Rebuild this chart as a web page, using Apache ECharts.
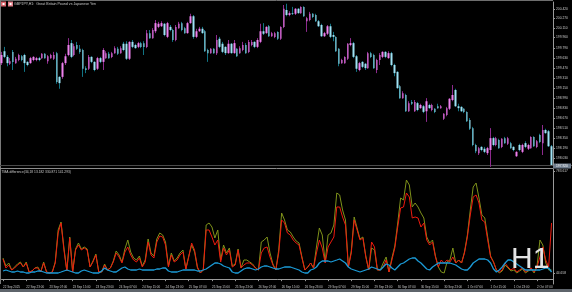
<!DOCTYPE html>
<html><head><meta charset="utf-8">
<script src="https://cdn.jsdelivr.net/npm/echarts@6/dist/echarts.min.js"></script>
<style>html,body{margin:0;padding:0;background:#000;overflow:hidden}#c{width:572px;height:292px}</style>
</head><body><div id="c"></div>
<script>
// ---- GBPJPY H1 candles ----
const openP = [199.55,199.74,199.65,199.54,199.73,199.55,199.60,199.66,199.68,199.57,
199.55,199.60,199.60,199.63,199.63,199.70,199.58,199.63,199.62,199.71,
199.33,199.33,199.55,199.68,199.87,199.68,199.84,199.78,199.76,199.47,
199.46,199.65,199.57,199.46,199.63,199.57,199.63,199.70,199.65,199.71,
199.78,199.71,199.86,199.86,199.62,199.89,199.84,199.81,199.87,199.87,
199.81,200.03,199.95,200.06,200.13,200.14,200.18,199.97,200.13,200.08,
199.92,200.11,200.19,200.11,200.03,200.19,200.30,199.97,200.06,200.10,
200.06,199.76,199.71,199.78,199.71,199.94,199.86,199.81,199.71,199.86,
199.71,199.78,199.71,199.76,199.84,199.73,199.84,199.89,199.81,199.89,
200.06,200.03,200.14,199.98,199.97,200.05,199.94,200.13,200.40,200.32,
200.35,200.34,200.42,200.35,200.45,200.22,200.24,200.34,200.32,200.22,
200.16,199.98,200.02,200.14,200.00,199.97,199.78,199.55,199.55,199.62,
199.84,199.87,199.66,199.44,199.57,199.54,199.47,199.71,199.68,199.44,
199.60,199.65,199.73,199.63,199.71,199.52,199.41,199.18,198.99,199.04,
198.78,198.93,198.78,198.91,198.83,198.86,198.78,198.88,198.80,198.82,
198.86,198.83,198.66,198.72,198.82,198.96,199.12,198.86,198.85,198.82,
198.77,198.64,198.51,198.24,198.11,198.21,198.18,198.11,198.16,198.35,
198.24,198.32,198.21,198.35,198.26,198.27,198.21,198.06,198.24,198.13,
198.27,198.18,198.19,198.37,198.21,198.40,198.27,198.48,198.46,198.22];
const closeP = [199.68,199.65,199.55,199.58,199.57,199.62,199.68,199.60,199.55,199.52,
199.63,199.65,199.63,199.60,199.70,199.63,199.66,199.68,199.68,199.25,
199.23,199.55,199.66,199.84,199.65,199.82,199.78,199.73,199.46,199.44,
199.65,199.57,199.44,199.63,199.57,199.76,199.71,199.63,199.71,199.79,
199.70,199.79,199.76,199.62,199.89,199.81,199.79,199.87,199.81,199.81,
200.03,199.95,200.08,200.19,200.18,200.19,200.00,200.19,200.08,199.92,
200.13,200.18,200.08,200.03,200.19,200.30,199.97,200.06,200.10,200.03,
199.74,199.71,199.78,199.71,199.92,199.81,199.73,199.71,199.86,199.71,
199.87,199.66,199.79,199.84,199.71,199.89,199.89,199.81,199.92,200.06,
200.02,200.13,199.98,200.03,200.03,199.94,200.13,200.42,200.32,200.35,
200.34,200.42,200.35,200.45,200.30,200.27,200.34,200.29,200.22,200.14,
199.98,200.03,200.14,199.97,199.97,199.74,199.54,199.60,199.65,199.86,
199.87,199.65,199.46,199.55,199.49,199.47,199.71,199.65,199.47,199.60,
199.68,199.73,199.65,199.71,199.52,199.39,199.15,198.99,199.07,198.78,
198.91,198.90,198.93,198.80,198.88,198.77,198.94,198.83,198.88,198.77,
198.83,198.86,198.74,198.83,198.98,199.04,198.86,198.83,198.78,198.77,
198.62,198.50,198.24,198.14,198.19,198.16,198.13,198.19,198.35,198.24,
198.35,198.19,198.34,198.27,198.35,198.19,198.16,198.13,198.16,198.24,
198.21,198.24,198.37,198.22,198.30,198.29,198.48,198.43,198.22,197.92];
const lowP = [199.52,199.63,199.50,199.52,199.44,199.54,199.58,199.58,199.41,199.50,
199.54,199.58,199.58,199.58,199.62,199.62,199.54,199.62,199.60,199.22,
199.14,199.30,199.52,199.66,199.63,199.66,199.76,199.70,199.33,199.39,
199.44,199.55,199.42,199.44,199.55,199.44,199.62,199.62,199.63,199.70,
199.68,199.70,199.74,199.60,199.60,199.79,199.78,199.79,199.79,199.68,
199.79,199.94,199.94,200.03,200.11,200.13,199.98,199.95,200.06,199.89,
199.90,200.10,200.06,200.02,200.02,200.18,199.94,199.95,200.05,200.02,
199.73,199.57,199.70,199.70,199.68,199.79,199.71,199.68,199.70,199.70,
199.70,199.65,199.70,199.74,199.70,199.71,199.82,199.79,199.79,199.87,
200.00,200.02,199.97,199.97,199.95,199.92,199.92,200.11,200.30,200.30,
200.32,200.32,200.34,200.34,200.29,200.05,200.22,200.27,200.21,200.13,
199.97,199.97,200.00,199.95,199.90,199.73,199.50,199.54,199.54,199.60,
199.82,199.63,199.41,199.42,199.47,199.44,199.46,199.63,199.46,199.39,
199.52,199.63,199.63,199.62,199.50,199.34,199.14,198.98,198.98,198.77,
198.77,198.88,198.77,198.78,198.82,198.75,198.61,198.82,198.78,198.75,
198.82,198.82,198.64,198.70,198.80,198.94,198.85,198.78,198.77,198.75,
198.61,198.48,198.22,198.11,198.08,198.14,198.11,198.08,197.89,198.22,
198.22,198.18,198.19,198.26,198.24,198.18,198.14,198.05,198.14,198.11,
198.19,198.16,198.18,198.21,198.19,198.27,198.08,198.42,198.21,197.92];
const highP = [199.73,199.81,199.68,199.63,199.76,199.65,199.70,199.68,199.70,199.58,
199.65,199.66,199.65,199.65,199.71,199.71,199.68,199.70,199.73,199.73,
199.34,199.57,199.70,199.95,199.92,199.86,199.89,199.84,199.78,199.50,
199.68,199.66,199.58,199.65,199.65,199.79,199.74,199.73,199.73,199.82,
199.81,199.82,199.89,199.90,199.90,199.92,199.86,199.89,199.89,199.90,
200.08,200.08,200.11,200.24,200.21,200.22,200.19,200.21,200.16,200.10,
200.16,200.21,200.21,200.13,200.21,200.34,200.32,200.10,200.13,200.13,
200.08,199.78,199.79,199.79,200.00,199.97,199.89,199.82,199.92,199.87,
199.92,199.79,199.82,199.89,199.87,199.92,199.92,199.90,199.95,200.18,
200.19,200.14,200.16,200.05,200.05,200.06,200.14,200.48,200.50,200.38,
200.45,200.43,200.43,200.46,200.46,200.29,200.37,200.35,200.34,200.24,
200.18,200.05,200.16,200.18,200.05,199.98,199.79,199.62,199.66,199.87,
199.95,199.89,199.68,199.57,199.58,199.55,199.73,199.73,199.70,199.62,
199.71,199.74,199.74,199.74,199.73,199.54,199.42,199.20,199.10,199.06,
198.94,198.96,198.96,198.93,198.90,198.88,198.99,198.90,198.90,198.83,
198.90,198.88,198.75,198.85,198.99,199.20,199.14,198.90,198.86,198.83,
198.78,198.67,198.53,198.26,198.21,198.22,198.21,198.21,198.51,198.37,
198.37,198.34,198.35,198.37,198.37,198.29,198.22,198.14,198.26,198.26,
198.30,198.26,198.38,198.38,198.32,198.42,198.56,198.50,198.48,198.24];

// ---- TMA difference indicator buffers ----
const tmaRed = [146.1,80.9,102.6,66.4,80.9,102.6,117.1,88.1,117.1,51.9,
59.2,80.9,80.9,51.9,117.1,51.9,44.7,51.9,117.1,334.5,
406.9,211.3,59.2,298.2,51.9,211.3,247.5,211.3,225.8,211.3,
88.1,124.4,175.1,51.9,51.9,102.6,66.4,80.9,124.4,189.6,
160.6,117.1,196.8,233.0,175.1,138.8,124.4,153.3,88.1,124.4,
269.3,175.1,153.3,269.3,312.7,305.5,247.5,88.1,175.1,124.4,
138.8,175.1,196.8,73.6,160.6,262.0,211.3,88.1,44.7,66.4,
356.2,356.2,305.5,247.5,283.7,124.4,225.8,175.1,211.3,88.1,
102.6,211.3,80.9,102.6,117.1,117.1,102.6,80.9,66.4,189.6,
225.8,233.0,160.6,102.6,66.4,189.6,428.6,406.9,334.5,320.0,
283.7,262.0,247.5,153.3,66.4,88.1,117.1,80.9,189.6,283.7,
225.8,117.1,233.0,269.3,305.5,522.8,522.8,450.4,392.4,88.1,
189.6,428.6,356.2,283.7,298.2,160.6,66.4,269.3,233.0,66.4,
66.4,88.1,138.8,51.9,138.8,225.8,377.9,515.6,522.8,624.3,
595.3,443.1,450.4,443.1,377.9,406.9,283.7,247.5,269.3,160.6,
88.1,138.8,117.1,138.8,124.4,160.6,117.1,138.8,117.1,189.6,
305.5,464.9,595.3,609.8,551.8,428.6,414.2,283.7,160.6,124.4,
66.4,51.9,66.4,117.1,88.1,66.4,80.9,51.9,66.4,80.9,
51.9,66.4,80.9,51.9,88.1,160.6,233.0,138.8,88.1,406.9];
const tmaOlive = [153.3,95.4,117.1,66.4,88.1,109.9,124.4,88.1,124.4,51.9,
59.2,80.9,88.1,51.9,124.4,51.9,44.7,51.9,124.4,356.2,
414.2,225.8,59.2,305.5,51.9,218.5,262.0,218.5,233.0,218.5,
88.1,131.6,182.3,51.9,51.9,109.9,66.4,80.9,131.6,204.1,
175.1,124.4,218.5,283.7,196.8,153.3,138.8,167.8,95.4,138.8,
291.0,189.6,167.8,291.0,334.5,320.0,269.3,95.4,189.6,131.6,
153.3,189.6,211.3,73.6,167.8,247.5,196.8,80.9,44.7,66.4,
392.4,406.9,377.9,298.2,356.2,138.8,247.5,189.6,225.8,95.4,
109.9,218.5,80.9,138.8,138.8,124.4,109.9,80.9,66.4,269.3,
283.7,305.5,189.6,109.9,66.4,211.3,479.4,428.6,356.2,341.7,
305.5,276.5,262.0,160.6,66.4,88.1,117.1,80.9,233.0,370.7,
320.0,124.4,320.0,334.5,392.4,624.3,609.8,501.1,428.6,88.1,
204.1,450.4,370.7,291.0,305.5,167.8,66.4,225.8,211.3,66.4,
66.4,117.1,160.6,51.9,153.3,240.3,406.9,588.0,573.5,718.4,
682.2,522.8,551.8,522.8,479.4,443.1,305.5,262.0,283.7,167.8,
88.1,51.9,44.7,124.4,138.8,225.8,117.1,138.8,117.1,196.8,
320.0,501.1,667.7,696.7,588.0,464.9,443.1,305.5,167.8,124.4,
66.4,44.7,59.2,102.6,80.9,59.2,66.4,44.7,59.2,73.6,
44.7,59.2,73.6,44.7,95.4,283.7,247.5,117.1,66.4,66.4];
const tmaBlue = [59.2,66.4,59.2,51.9,51.9,59.2,51.9,51.9,44.7,44.7,
51.9,51.9,59.2,59.2,51.9,44.7,44.7,44.7,44.7,44.7,
51.9,59.2,66.4,59.2,51.9,44.7,44.7,59.2,66.4,59.2,
51.9,44.7,44.7,44.7,59.2,80.9,66.4,59.2,51.9,51.9,
66.4,80.9,88.1,73.6,66.4,66.4,66.4,73.6,66.4,66.4,
66.4,66.4,66.4,73.6,73.6,80.9,80.9,59.2,51.9,51.9,
51.9,59.2,66.4,66.4,66.4,66.4,66.4,59.2,59.2,66.4,
73.6,88.1,102.6,117.1,117.1,109.9,95.4,88.1,80.9,51.9,
44.7,44.7,59.2,73.6,80.9,80.9,73.6,66.4,73.6,88.1,
95.4,95.4,88.1,80.9,73.6,73.6,80.9,88.1,88.1,88.1,
80.9,73.6,66.4,51.9,44.7,44.7,66.4,73.6,88.1,117.1,
131.6,131.6,131.6,124.4,131.6,138.8,146.1,131.6,117.1,88.1,
73.6,66.4,59.2,51.9,59.2,66.4,73.6,88.1,80.9,73.6,
66.4,88.1,109.9,102.6,80.9,66.4,88.1,109.9,117.1,131.6,
146.1,153.3,153.3,131.6,117.1,95.4,73.6,66.4,88.1,102.6,
117.1,117.1,117.1,117.1,117.1,109.9,102.6,88.1,73.6,66.4,
66.4,88.1,117.1,131.6,146.1,146.1,146.1,138.8,117.1,73.6,
51.9,66.4,88.1,117.1,138.8,138.8,124.4,109.9,95.4,80.9,
66.4,66.4,66.4,66.4,66.4,66.4,73.6,80.9,80.9,51.9];

// ---- tick labels ----
const priceTicks = [200.42,200.27,200.11,199.96,199.79,199.63,199.47,199.31,199.15,198.99,198.83,198.67,198.51,198.35,198.19,198.03];
const indTicks = [783.617, 44.658];
const timeLabels = ["22 Sep 2025","22 Sep 23:00","23 Sep 07:00","23 Sep 15:00","23 Sep 23:00","24 Sep 07:00","24 Sep 15:00","24 Sep 23:00","25 Sep 07:00","25 Sep 15:00","25 Sep 23:00","26 Sep 07:00","26 Sep 15:00","26 Sep 23:00","29 Sep 07:00","29 Sep 15:00","29 Sep 23:00","30 Sep 07:00","30 Sep 15:00","30 Sep 23:00","1 Oct 07:00","1 Oct 15:00","1 Oct 23:00","2 Oct 07:00"];
const labelStep = 8;
const lastPrice = "197.920";

const cats = openP.map((_, i) => i);
const wickData = openP.map((o, i) => [o, closeP[i], lowP[i], highP[i]]);
const bodyData = openP.map((o, i) => [o, closeP[i], Math.min(o, closeP[i]), Math.max(o, closeP[i])]);

const FONT = 'Liberation Sans';
const TXT = '#c8c8c8';
const AX = '#9a9a9a';

const chart = echarts.init(document.getElementById('c'), null, {renderer: 'canvas'});
chart.setOption({
  backgroundColor: '#000',
  animation: false,
  grid: [
    {left: 0, right: 19, top: 2, height: 163},
    {left: 0, right: 19, top: 169, height: 115}
  ],
  xAxis: [
    {gridIndex: 0, type: 'category', data: cats, boundaryGap: true,
     axisLine: {show: false}, axisTick: {show: false}, axisLabel: {show: false}, splitLine: {show: false}},
    {gridIndex: 1, type: 'category', data: cats, boundaryGap: true,
     axisLine: {show: true, lineStyle: {color: AX, width: 1}},
     axisTick: {show: true, alignWithLabel: true, length: 2, interval: (i) => i % labelStep === 0, lineStyle: {color: AX}},
     axisLabel: {show: true, interval: (i) => i % labelStep === 0, align: 'left', margin: 2, hideOverlap: false,
       formatter: (v, i) => timeLabels[i / labelStep] || '', color: TXT, fontSize: 3, fontFamily: FONT},
     splitLine: {show: false}}
  ],
  yAxis: [
    {gridIndex: 0, type: 'value', position: 'right', min: 197.92, max: 200.528,
     splitLine: {show: false},
     axisLine: {show: true, lineStyle: {color: AX}},
     axisTick: {show: true, length: 2, customValues: priceTicks, lineStyle: {color: AX}},
     axisLabel: {customValues: priceTicks, formatter: (v) => v.toFixed(3), color: TXT, fontSize: 3.3, margin: 3, fontFamily: FONT}},
    {gridIndex: 1, type: 'value', position: 'right', min: -35.04, max: 798.14,
     splitLine: {show: false},
     axisLine: {show: true, lineStyle: {color: AX}},
     axisTick: {show: true, length: 2, customValues: indTicks, lineStyle: {color: AX}},
     axisLabel: {customValues: indTicks, formatter: (v) => v.toFixed(3), color: TXT, fontSize: 3.3, margin: 3, fontFamily: FONT}}
  ],
  series: [
    {type: 'candlestick', xAxisIndex: 0, yAxisIndex: 0, data: wickData, barWidth: 1,
     itemStyle: {color: '#8d2a8d', color0: '#117484', borderColor: '#8d2a8d', borderColor0: '#117484', borderWidth: 1}},
    {type: 'candlestick', xAxisIndex: 0, yAxisIndex: 0, data: bodyData, barWidth: 2,
     itemStyle: {color: '#ee82ee', color0: '#9fe2f4', borderColor: '#ee82ee', borderColor0: '#9fe2f4', borderWidth: 0}},
    {type: 'line', xAxisIndex: 1, yAxisIndex: 1, data: tmaOlive, symbol: 'none',
     lineStyle: {color: '#7f921a', width: 1}},
    {type: 'line', xAxisIndex: 1, yAxisIndex: 1, data: tmaRed, symbol: 'none',
     lineStyle: {color: '#ee1a0e', width: 1}},
    {type: 'line', xAxisIndex: 1, yAxisIndex: 1, data: tmaBlue, symbol: 'none',
     lineStyle: {color: '#1b9ad6', width: 1.3}}
  ],
  graphic: [
    {type: 'line', shape: {x1: 0, y1: 0.5, x2: 553, y2: 0.5}, style: {stroke: '#6e6e6e', lineWidth: 1}},
    {type: 'line', shape: {x1: 0.5, y1: 0, x2: 0.5, y2: 284}, style: {stroke: '#7a7a7a', lineWidth: 1}},
    {type: 'line', shape: {x1: 0, y1: 165.5, x2: 572, y2: 165.5}, style: {stroke: '#4a4a4a', lineWidth: 1}},
    {type: 'line', shape: {x1: 0, y1: 168.5, x2: 553, y2: 168.5}, style: {stroke: '#8c8c8c', lineWidth: 1}},
    {type: 'rect', shape: {x: 0, y: 289, width: 572, height: 3}, style: {fill: '#5e646b'}},
    {type: 'rect', shape: {x: 1, y: 1.5, width: 5, height: 5}, style: {fill: '#d8646c'}},
    {type: 'rect', shape: {x: 2.5, y: 3, width: 2, height: 2}, style: {fill: '#ffffff'}},
    {type: 'rect', shape: {x: 8, y: 1.5, width: 5, height: 5}, style: {fill: '#e0808a'}},
    {type: 'rect', shape: {x: 9.5, y: 3, width: 2, height: 2}, style: {fill: '#ffffff'}},
    {type: 'text', x: 14, y: 2.2, style: {text: 'GBPJPY,H1:  Great Britain Pound vs Japanese Yen', fill: TXT, fontSize: 3.6, fontFamily: FONT}},
    {type: 'text', x: 1.5, y: 170.5, style: {text: 'TMA difference(34,18 13.182 330.871 141.293)', fill: TXT, fontSize: 3.3, fontFamily: FONT}},
    {type: 'rect', shape: {x: 553, y: 163.5, width: 18, height: 5}, style: {fill: '#6e7c8c'}},
    {type: 'text', x: 556, y: 164.3, style: {text: lastPrice, fill: '#ffffff', fontSize: 3.3, fontFamily: FONT}},
    {type: 'text', x: 511, y: 245, z: 100, style: {text: 'H1', fill: '#e4e4e4', fontSize: 30, fontFamily: FONT}}
  ]
});
</script>
</body></html>
